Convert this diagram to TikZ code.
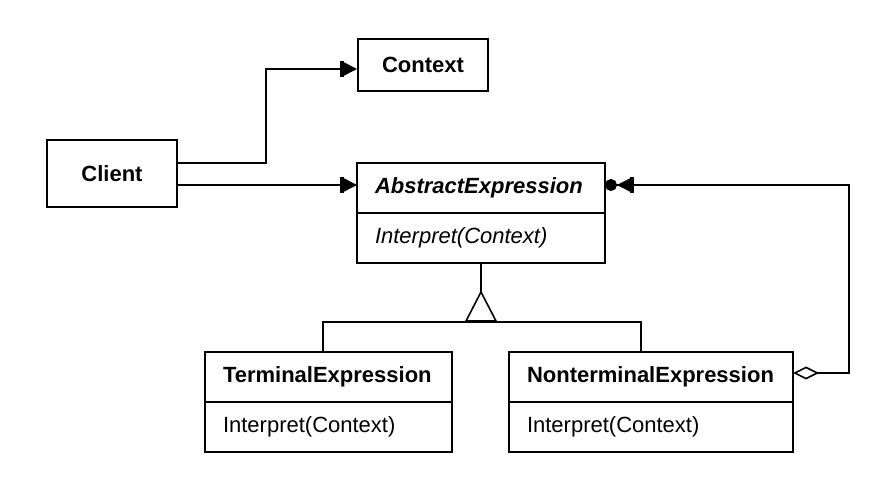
\documentclass[tikz,border=0pt]{standalone}
\usepackage{fontspec}
\setmainfont{Liberation Sans}
\usepackage{tikz}
\usetikzlibrary{arrows.meta,positioning}

\tikzset{
  umlfont/.style={font=\fontsize{11}{13}\selectfont},
  objbox/.style={draw,line width=1pt,umlfont,inner sep=0pt},
  clshead/.style={draw,line width=1pt,umlfont,anchor=north west,outer sep=0pt,
    minimum height=25pt,inner xsep=9pt,inner ysep=0pt,align=left},
  clsbody/.style={clshead,anchor=north},
  link/.style={line width=0.8pt},
  assoc/.style={link,-{Bar[width=8pt,line width=1.8pt,sep=0pt]Triangle[length=6.5pt,width=6.5pt]}},
  assocmany/.style={link,{Diamond[open,length=13pt,width=6.5pt]}-{Bar[width=8pt,line width=1.8pt,sep=0pt]Triangle[length=6.5pt,width=6.5pt,sep=0pt]Circle[length=6pt]}}
}

\begin{document}
\begin{tikzpicture}[x=0.5pt,y=-0.5pt]
  \useasboundingbox (0,0) rectangle (887,490);

  \node[objbox,minimum width=65pt,minimum height=33.5pt] (client) at (112,173.5) {\textbf{Client}};
  \node[objbox,minimum width=65pt,minimum height=26pt] (context) at (423,65) {\textbf{Context}};

  % class boxes: name part and operation part
  \foreach \n/\x/\y/\w/\t/\m in {
    abs/357/163/106pt/{\textbf{\textit{AbstractExpression}}}/{\textit{Interpret(Context)}},
    term/205/352/105.5pt/{\textbf{TerminalExpression}}/{Interpret(Context)},
    nonterm/509/352/124pt/{\textbf{NonterminalExpression}}/{Interpret(Context)}
  }{
    \node[clshead,text width=\w] (\n) at (\x,\y) {\t};
    \node[clsbody,text width=\w,below=0pt of \n] (\n-op) {\m};
  }

  % client associations
  \draw[assoc] ([yshift=5.25pt]client.east) -- ++(88,0) |- ([yshift=-2pt]context.west);
  \draw[assoc] ([yshift=-5.75pt]client.east) coordinate (c2) -- (c2 -| abs.west);

  % inheritance
  \coordinate (apex) at ([yshift=-14.5pt]abs-op.south);
  \coordinate (tj) at (323,322);
  \coordinate (nj) at (641,322);
  \draw[link] (abs-op.south) -- (apex);
  \draw[link] (apex) -- ++(-15,29) -- ++(30,0) -- cycle;
  \draw[link] (tj |- term.north) |- (nj) -- (nj |- nonterm.north);

  % aggregation of sub-expressions
  \draw[assocmany] ([yshift=2pt]nonterm.east) -- ++(56,0) |- ([yshift=1.5pt]abs.east);
\end{tikzpicture}
\end{document}
